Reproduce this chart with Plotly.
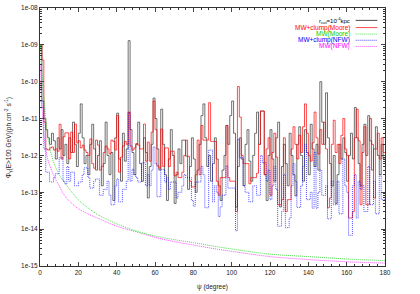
import plotly.graph_objects as go

# 1-degree bins, value of each bin from psi to psi+1
psi_bins = list(range(0, 181))

black_rcut = [
    1.0e-9, 3.0e-11, 1.0e-11, 5.0e-12, 3.0e-12, 2.0e-12, 4.0e-12, 2.5e-12, 8.0e-13, 3.0e-12,
    1.5e-12, 5.0e-12, 1.0e-12, 2.0e-12, 6.0e-13, 3.0e-12, 1.2e-12, 8.0e-12, 2.0e-12, 5.0e-13,
    4.0e-12, 2.5e-11, 3.0e-12, 6.0e-13, 1.0e-12, 3.0e-13, 2.0e-12, 7.0e-12, 1.5e-12, 4.0e-13,
    1.0e-12, 2.5e-12, 1.5e-13, 6.0e-13, 8.0e-12, 1.0e-12, 3.0e-13, 1.2e-12, 6.0e-14, 3.0e-12,
    1.4e-11, 8.0e-13, 2.0e-13, 4.0e-12, 7.0e-13, 1.5e-12, 1.3e-9, 5.0e-12, 1.2e-12, 3.0e-13,
    2.0e-12, 8.0e-12, 6.0e-13, 2.0e-13, 3.0e-12, 1.2e-12, 7.0e-14, 5.0e-13, 2.0e-12, 3.6e-11,
    1.0e-11, 1.5e-12, 4.0e-13, 1.8e-11, 2.0e-12, 3.0e-13, 6.0e-14, 8.0e-13, 5.0e-12, 1.0e-12,
    5.0e-14, 3.0e-13, 1.5e-12, 6.0e-13, 2.6e-12, 2.6e-12, 9.5e-13, 1.2e-13, 5.0e-13, 3.0e-12,
    8.0e-13, 1.0e-13, 4.0e-13, 2.0e-12, 1.2e-11, 2.5e-11, 3.0e-12, 5.0e-13, 1.0e-12, 2.0e-13,
    6.0e-13, 3.0e-12, 8.0e-13, 1.5e-13, 6.0e-14, 4.0e-13, 1.0e-12, 6.5e-12, 2.0e-12, 1.2e-11,
    3.0e-11, 4.0e-12, 4.0e-14, 5.0e-13, 3.0e-12, 8.0e-13, 1.5e-13, 2.0e-12, 5.0e-12, 7.0e-13,
    2.0e-13, 1.0e-12, 4.0e-12, 1.5e-11, 2.0e-12, 1.6e-11, 1.6e-11, 3.0e-13, 6.0e-14, 1.0e-12,
    5.0e-12, 8.0e-13, 2.0e-13, 3.0e-12, 8.0e-12, 4.0e-14, 5.0e-13, 2.0e-12, 6.0e-13, 1.5e-13,
    4.0e-12, 1.0e-12, 3.0e-13, 8.0e-14, 2.0e-12, 6.0e-12, 1.0e-12, 2.0e-13, 5.0e-12, 1.2e-12,
    3.0e-13, 7.0e-12, 1.5e-12, 5.0e-13, 2.0e-12, 4.0e-13, 1.0e-10, 8.0e-12, 2.0e-12, 5.0e-11,
    3.0e-12, 6.0e-13, 1.5e-13, 1.0e-12, 5.0e-14, 3.0e-13, 2.0e-12, 8.0e-13, 3.0e-12, 1.2e-12,
    2.0e-13, 1.0e-12, 4.0e-12, 8.0e-13, 2.0e-11, 3.0e-12, 6.0e-13, 1.5e-13, 2.0e-12, 7.0e-12,
    1.0e-12, 1.2e-11, 2.5e-12, 4.0e-13, 1.5e-12, 6.0e-12, 1.0e-12, 3.0e-13, 2.0e-12, 8.0e-13,
]

mw_clump_moore = [
    1.0e-9, 3.9e-10, 8.0e-12, 1.5e-12, 1.4e-12, 1.6e-12, 1.7e-12, 1.4e-12, 1.5e-12, 1.3e-12,
    7.0e-12, 8.0e-13, 3.2e-12, 4.1e-12, 4.1e-12, 8.0e-13, 4.3e-12, 1.2e-12, 7.1e-12, 2.2e-12,
    2.5e-12, 1.6e-12, 1.9e-12, 1.4e-12, 1.2e-12, 1.0e-12, 2.8e-12, 6.0e-13, 4.5e-13, 2.6e-12,
    1.9e-12, 4.0e-13, 5.0e-13, 1.2e-12, 1.8e-12, 1.5e-12, 1.1e-12, 2.6e-12, 2.4e-12, 1.4e-12,
    1.2e-11, 3.5e-13, 9.0e-13, 1.8e-12, 2.4e-12, 2.0e-12, 1.5e-11, 1.8e-12, 1.4e-12, 1.6e-12,
    2.1e-12, 1.9e-12, 1.5e-12, 1.5e-12, 7.1e-12, 7.0e-13, 2.3e-12, 7.0e-13, 4.3e-12, 3.0e-11,
    5.0e-12, 5.2e-13, 4.5e-13, 5.2e-12, 5.0e-13, 1.6e-12, 1.6e-12, 5.0e-13, 1.3e-12, 1.3e-12,
    2.8e-13, 3.5e-13, 2.5e-13, 2.5e-13, 3.5e-13, 1.0e-12, 2.6e-12, 9.5e-13, 2.0e-13, 1.4e-13,
    1.4e-13, 3.0e-13, 2.6e-12, 3.0e-13, 6.5e-12, 2.6e-12, 2.6e-12, 2.6e-12, 2.7e-11, 2.4e-12,
    2.4e-12, 2.4e-12, 2.0e-13, 8.3e-14, 2.5e-13, 2.5e-13, 2.5e-13, 6.5e-12, 2.5e-13, 2.0e-13,
    2.0e-13, 2.0e-13, 3.0e-14, 7.4e-11, 1.1e-11, 1.0e-12, 6.0e-13, 6.0e-13, 6.0e-13, 1.7e-13,
    2.5e-13, 2.5e-13, 2.5e-13, 3.3e-13, 2.0e-12, 1.6e-11, 1.6e-11, 3.0e-13, 1.5e-12, 3.0e-12,
    8.3e-14, 1.2e-12, 4.0e-12, 9.0e-13, 4.6e-14, 4.6e-14, 6.3e-14, 3.0e-12, 3.0e-14, 6.3e-14,
    6.3e-14, 1.5e-12, 6.0e-12, 2.0e-12, 8.0e-13, 3.5e-12, 1.2e-12, 6.0e-12, 2.5e-11, 4.0e-12,
    1.0e-12, 7.0e-13, 2.2e-12, 1.5e-11, 3.0e-12, 1.1e-12, 5.0e-12, 2.0e-12, 8.0e-12, 1.5e-12,
    3.8e-14, 7.0e-14, 2.0e-12, 9.0e-12, 1.2e-12, 2.0e-12, 6.0e-13, 3.5e-12, 1.0e-11, 1.5e-12,
    1.0e-12, 2.0e-14, 2.0e-14, 3.0e-14, 3.0e-12, 1.8e-11, 2.5e-12, 4.6e-14, 1.2e-12, 6.0e-12,
    4.6e-14, 4.6e-14, 1.0e-11, 2.0e-12, 7.0e-14, 1.5e-12, 4.0e-12, 8.0e-13, 3.0e-12, 1.2e-12,
]

mw_clump_nfw = [
    3.0e-11, 2.0e-11, 1.5e-12, 3.5e-13, 3.5e-13, 1.9e-13, 1.9e-13, 2.5e-13, 3.2e-13, 3.2e-13,
    8.7e-13, 8.7e-13, 2.0e-13, 1.7e-13, 5.0e-13, 2.0e-13, 3.5e-13, 3.5e-13, 1.5e-13, 1.5e-13,
    1.9e-13, 1.9e-13, 3.0e-13, 4.6e-13, 4.6e-13, 2.5e-13, 1.3e-13, 1.3e-13, 2.0e-13, 2.3e-13,
    2.3e-13, 8.3e-14, 8.3e-14, 1.2e-13, 1.2e-13, 2.0e-13, 8.3e-14, 4.6e-14, 4.6e-14, 1.5e-13,
    2.3e-13, 5.5e-14, 5.5e-14, 1.2e-13, 1.2e-13, 2.0e-13, 1.45e-11, 2.0e-13, 4.2e-13, 3.0e-13,
    2.5e-13, 1.9e-13, 1.9e-13, 6.3e-13, 6.3e-13, 1.5e-13, 3.0e-13, 1.5e-13, 4.0e-13, 1.7e-12,
    6.0e-13, 7.6e-14, 7.6e-14, 4.2e-13, 4.2e-13, 1.9e-13, 2.5e-13, 1.2e-13, 1.9e-13, 1.9e-13,
    1.9e-13, 7.0e-14, 1.0e-13, 1.0e-13, 1.5e-13, 3.0e-13, 2.5e-13, 2.5e-13, 2.5e-13, 6.0e-14,
    4.2e-14, 1.9e-13, 1.9e-13, 1.9e-13, 5.0e-13, 3.0e-13, 3.8e-14, 3.8e-14, 1.4e-12, 1.4e-12,
    5.5e-14, 1.5e-13, 1.0e-13, 2.2e-14, 4.0e-14, 8.3e-14, 8.3e-14, 5.2e-13, 1.3e-13, 1.3e-13,
    1.3e-13, 1.3e-13, 9.0e-15, 2.7e-12, 8.7e-13, 8.7e-13, 1.5e-13, 1.0e-13, 1.0e-13, 5.5e-14,
    5.5e-14, 1.5e-13, 1.5e-13, 8.3e-14, 8.3e-14, 1.0e-12, 6.3e-13, 6.3e-13, 2.0e-13, 4.0e-13,
    6.3e-14, 1.5e-13, 5.0e-13, 1.2e-13, 1.2e-14, 1.2e-14, 3.0e-14, 3.0e-13, 1.1e-14, 1.1e-14,
    2.0e-14, 1.5e-13, 6.0e-13, 2.0e-13, 3.9e-14, 3.9e-14, 1.5e-13, 5.0e-13, 2.0e-12, 6.3e-14,
    6.3e-14, 1.0e-13, 3.7e-14, 1.2e-12, 3.7e-14, 1.0e-13, 4.0e-13, 8.3e-14, 8.3e-14, 1.5e-13,
    1.9e-14, 1.9e-14, 2.0e-13, 4.6e-14, 4.6e-14, 2.0e-13, 2.6e-14, 2.6e-14, 8.0e-13, 1.5e-13,
    1.0e-13, 6.8e-15, 6.8e-15, 1.5e-13, 3.0e-13, 2.0e-14, 2.0e-13, 1.2e-13, 1.5e-13, 3.0e-14,
    3.0e-14, 5.0e-13, 4.6e-14, 4.6e-14, 2.0e-13, 2.6e-14, 2.6e-14, 3.0e-13, 6.3e-14, 6.3e-14,
]

# smooth halo-only curves
psi_smooth = [0.3, 0.5, 1, 1.5, 2, 3, 4, 5, 6, 8, 10, 12, 15, 20, 25, 30, 40, 50,
              60, 70, 80, 90, 100, 120, 140, 160, 180]
mw_moore = [1.0e-9, 4.0e-10, 1.5e-10, 8.0e-11, 4.4e-11, 1.0e-11, 3.5e-12, 1.8e-12, 1.0e-12,
            5.0e-13, 3.0e-13, 2.1e-13, 1.3e-13, 6.2e-14, 3.8e-14, 2.5e-14, 1.4e-14, 9.0e-15,
            6.5e-15, 5.2e-15, 4.3e-15, 3.5e-15, 2.9e-15, 2.1e-15, 1.8e-15, 1.55e-15, 1.4e-15]
mw_nfw = [3.0e-10, 1.0e-10, 2.5e-11, 8.0e-12, 3.5e-12, 1.5e-12, 8.0e-13, 5.5e-13, 4.0e-13,
          2.3e-13, 1.5e-13, 9.5e-14, 6.0e-14, 3.6e-14, 2.6e-14, 2.0e-14, 1.2e-14, 8.5e-15,
          6.0e-15, 4.6e-15, 3.7e-15, 3.0e-15, 2.5e-15, 1.8e-15, 1.5e-15, 1.3e-15, 1.2e-15]

y_ticks = [1e-15, 1e-14, 1e-13, 1e-12, 1e-11, 1e-10, 1e-09, 1e-08]
y_ticktext = ["1e-15", "1e-14", "1e-13", "1e-12", "1e-11", "1e-10", "1e-09", "1e-08"]
x_ticks = [0, 20, 40, 60, 80, 100, 120, 140, 160, 180]

legend_labels = ["r<sub>cut</sub>=10<sup>-4</sup>kpc", "MW+clump(Moore)", "MW(Moore)",
                 "MW+clump(NFW)", "MW(NFW)"]
colors = ["#000000", "#ff0000", "#00d000", "#0000ff", "#ff00ff"]
dashes = ["solid", "solid", "1px,1px", "1px,1px", "1px,1px"]

FONT = "Liberation Sans, Arial, sans-serif"
W = 0.7

fig = go.Figure()

def step(vals):
    return vals + [vals[-1]]

fig.add_trace(go.Scatter(x=psi_bins, y=step(black_rcut), mode="lines", line_shape="hv",
                         line=dict(color="#333333", width=W)))
fig.add_trace(go.Scatter(x=psi_bins, y=step(mw_clump_moore), mode="lines", line_shape="hv",
                         line=dict(color=colors[1], width=W)))
fig.add_trace(go.Scatter(x=psi_smooth, y=mw_moore, mode="lines", line_shape="spline",
                         line=dict(color=colors[2], width=W, dash=dashes[2])))
fig.add_trace(go.Scatter(x=psi_bins, y=step(mw_clump_nfw), mode="lines", line_shape="hv",
                         line=dict(color=colors[3], width=W, dash=dashes[3])))
fig.add_trace(go.Scatter(x=psi_smooth, y=mw_nfw, mode="lines", line_shape="spline",
                         line=dict(color=colors[4], width=W, dash=dashes[4])))

# gnuplot-like key: text right aligned, line sample on its right
key_y = [0.952, 0.924, 0.899, 0.875, 0.851]
for lab, col, dash, yy in zip(legend_labels, colors, dashes, key_y):
    fig.add_annotation(x=0.905, y=yy, xref="paper", yref="paper", text=lab,
                       showarrow=False, xanchor="right", yanchor="middle",
                       font=dict(size=6.5 if col != "#000000" else 6, color=col, family=FONT))
    fig.add_shape(type="line", xref="paper", yref="paper", x0=0.915, x1=0.978,
                  y0=yy, y1=yy, line=dict(color=col, width=W, dash=dash))

fig.add_annotation(x=0.5, y=-0.08, xref="paper", yref="paper", text="ψ (degree)",
                   showarrow=False, yanchor="middle",
                   font=dict(size=6.5, color="#222", family=FONT))
fig.add_annotation(x=-0.093, y=0.5, xref="paper", yref="paper", textangle=-90,
                   text="Φ<sub>γ</sub>(E>100 GeV)(ph cm<sup>-2</sup> s<sup>-1</sup>)",
                   showarrow=False, xanchor="center", yanchor="middle",
                   font=dict(size=6.5, color="#222", family=FONT))

minor_y = [m * 10.0 ** e for e in range(-15, -8) for m in range(2, 10)]

fig.update_xaxes(range=[0, 180], tickvals=x_ticks, ticks="inside", ticklen=4,
                 mirror="allticks", showline=True, linecolor="#333", linewidth=1,
                 showgrid=False, zeroline=False, automargin=False,
                 tickfont=dict(size=6.5, color="#222", family=FONT),
                 minor=dict(ticks="inside", ticklen=2, dtick=4, tickcolor="#333", showgrid=False))
fig.update_yaxes(type="log", range=[-15, -8], tickvals=y_ticks, ticktext=y_ticktext,
                 ticks="inside", ticklen=4, mirror="allticks", showline=True,
                 linecolor="#333", linewidth=1, showgrid=False, zeroline=False,
                 automargin=False,
                 tickfont=dict(size=6.5, color="#222", family=FONT),
                 minor=dict(ticks="inside", ticklen=2, tickvals=minor_y, tickcolor="#333",
                            showgrid=False))

fig.update_layout(width=420, height=294, margin=dict(l=40, r=35, t=8, b=28),
                  paper_bgcolor="white", plot_bgcolor="white", showlegend=False,
                  font=dict(family=FONT, size=6.5))

fig.write_html("out.html", config={"displayModeBar": False},
               post_script="document.body.style.margin='0';")
